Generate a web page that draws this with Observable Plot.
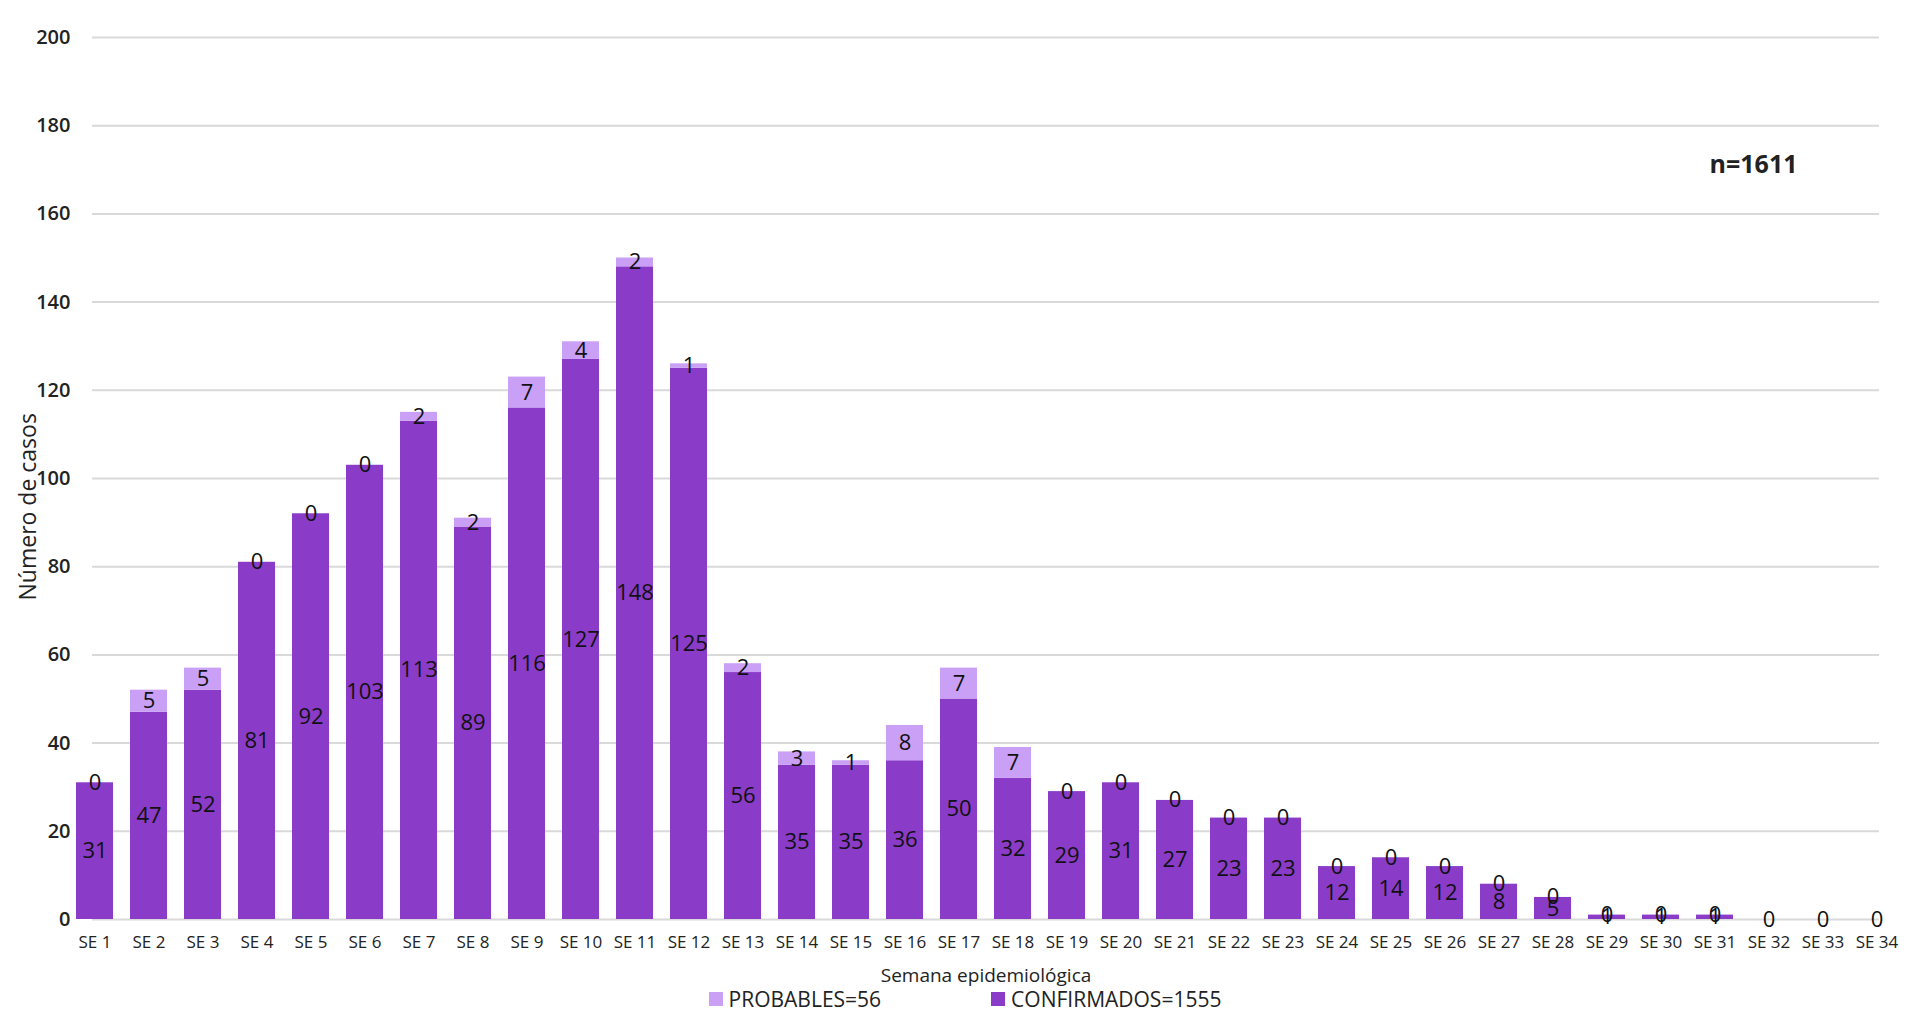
<!DOCTYPE html>
<html><head><meta charset="utf-8">
<script src="https://cdn.jsdelivr.net/npm/d3@7"></script>
<script src="https://cdn.jsdelivr.net/npm/@observablehq/plot@0.6"></script>
<style>
body{margin:0;background:#fff;font-family:"Open Sans",sans-serif;}
#chart{position:relative;width:1910px;}
.legend{display:flex;justify-content:center;gap:110px;font-size:21px;color:#222;margin-top:-10px;padding-left:20px}
.legend span{display:inline-flex;align-items:center;gap:6px}
.legend i{display:inline-block;width:14px;height:14px}
</style></head><body>
<div id="chart"></div>
<div class="legend"><span><i style="background:#c9a0f5"></i>PROBABLES=56</span><span><i style="background:#8a3cc8"></i>CONFIRMADOS=1555</span></div>
<script>
const semanas = d3.range(1, 35).map(i => "SE " + i)
const confirmados = [31,47,52,81,92,103,113,89,116,127,148,125,56,35,35,36,50,32,29,31,27,23,23,12,14,12,8,5,1,1,1,0,0,0]
const probables = [0,5,5,0,0,0,2,2,7,4,2,1,2,3,1,8,7,7,0,0,0,0,0,0,0,0,0,0,0,0,0,0,0,0]

const data = semanas.map((s, i) => ({s, c: confirmados[i], p: probables[i]}))

// first and last band centred on the ends of the gridlines
const x0 = 92, x1 = 1879
const step = (x1 - x0) / 33
const bw = step * 0.68

const chart = Plot.plot({
  width: 1910, height: 995,
  marginLeft: 92, marginRight: 31, marginTop: 37, marginBottom: 76,
  style: {fontFamily: "Open Sans", fontSize: "15px", color: "#222"},
  x: {domain: semanas, paddingInner: 0.32, paddingOuter: 0, range: [x0 - bw / 2, x1 + bw / 2], label: null},
  y: {domain: [0, 200], ticks: d3.range(0, 201, 20), label: null},
  marks: [
    Plot.gridY(d3.range(0, 201, 20), {stroke: "#d9d9d9", strokeOpacity: 1, strokeWidth: 2}),
    Plot.axisY({ticks: d3.range(0, 201, 20), tickSize: 0, tickPadding: 22, fontSize: 20, fontWeight: 600, label: null}),
    Plot.axisX({tickSize: 0, tickPadding: 16, fontSize: 17, label: null}),
    Plot.barY(data, {x: "s", y1: 0, y2: "c", fill: "#8a3cc8"}),
    Plot.barY(data, {x: "s", y1: "c", y2: d => d.c + d.p, fill: "#c9a0f5"}),
    Plot.text(data, {x: "s", y: d => d.c / 2, text: "c", fontSize: 22, fill: "#111", filter: d => d.c > 0}),
    Plot.text(data, {x: "s", y: d => d.c + d.p / 2, text: "p", fontSize: 22, fill: "#111"}),
    Plot.text(["Semana epidemiológica"], {frameAnchor: "bottom", dy: 62, fontSize: 19, fill: "#222"}),
    Plot.text(["Número de casos"], {frameAnchor: "left", dx: -64, dy: 122, rotate: -90, fontSize: 23, fill: "#222"}),
    Plot.text(["n=1611"], {frameAnchor: "top-right", dx: -82, dy: 118, fontSize: 25, fontWeight: "bold", fill: "#222"})
  ]
})
document.getElementById("chart").append(chart)
</script>
</body></html>
